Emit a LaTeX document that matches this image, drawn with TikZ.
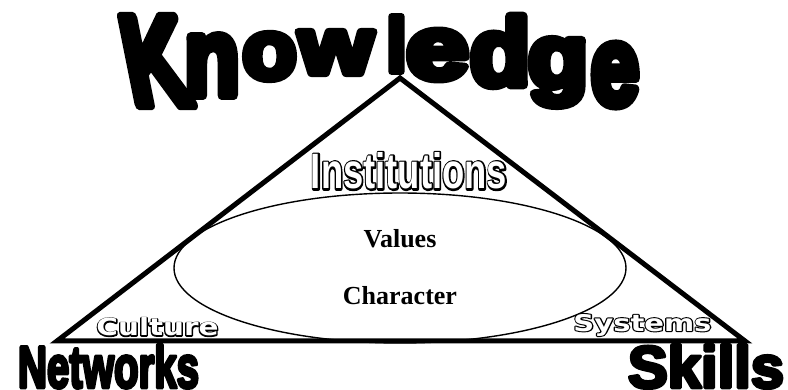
\documentclass[tikz,border=0pt]{standalone}
\usepackage{fontspec}
\usepackage{graphicx}
\usetikzlibrary{shapes.geometric}
\setmainfont{Liberation Serif}
\newfontfamily\heavyfont{Liberation Sans}[FakeBold=9]
\newfontfamily\cornerfont{Liberation Sans}[FakeBold=6]
\newfontfamily\plainsans{Liberation Sans}
\newfontfamily\strokesans{Liberation Sans}[FakeBold=8]
\newfontfamily\plainwide{DejaVu Sans}
\newfontfamily\strokewide{DejaVu Sans}[FakeBold=9]
\newcommand\otext[3]{\rlap{\color{black}#1#3}{\color{white}#2#3}}
\tikzset{
  kl/.style={inner sep=0pt, outer sep=0pt, anchor=center, line join=round},
  tri/.style={line width=5pt, line join=miter},
  oval/.style={draw, ellipse, line width=1.4pt, inner sep=0pt},
  inner/.style={font=\fontsize{26}{30}\selectfont\bfseries, inner sep=0pt, anchor=base},
}
\begin{document}
\begin{tikzpicture}[x=1pt,y=-1pt]
\useasboundingbox (0,0) rectangle (788,390);
\fill[white] (0,0) rectangle (788,390);
% triangle
\coordinate (apex) at (400,78);
\coordinate (bl) at (57,341);
\coordinate (br) at (745,341);
\draw[tri] (apex) -- (bl) -- (br) -- cycle;
% ellipse
\node[oval, minimum width=452pt, minimum height=150pt] (ell) at (400,268) {};
\node[inner] (values) at (400,248) {Values};
\node[inner] (character) at (400,305) {Character};
% Knowledge letters
\node[kl, xslant=-0.2, transform shape] (k1) at (155,61) {\resizebox{62pt}{87pt}{\heavyfont\bfseries K}};
\node[kl] (k2) at (212,65.5) {\resizebox{55pt}{59pt}{\heavyfont\bfseries n}};
\node[kl] (k3) at (269.5,56.5) {\resizebox{54pt}{45pt}{\heavyfont\bfseries o}};
\node[kl] (k4) at (336,52.5) {\resizebox{74pt}{42pt}{\heavyfont\bfseries w}};
\node[kl] (k5) at (396.5,44) {\resizebox{20pt}{55pt}{\heavyfont\bfseries l}};
\node[kl] (k6) at (437.5,55) {\resizebox{62pt}{48pt}{\heavyfont\bfseries e}};
\node[kl] (k7) at (500,51) {\resizebox{60pt}{69pt}{\heavyfont\bfseries d}};
\node[kl] (k8) at (558,72.5) {\resizebox*{60pt}{67pt}{\heavyfont\bfseries g}};
\node[kl] (k9) at (615,75) {\resizebox{48pt}{60pt}{\heavyfont\bfseries e}};
% corner words
\node[kl] (networks) at (108.5,366.5) {\resizebox{181pt}{43pt}{\cornerfont\bfseries Networks}};
\node[kl] (skills) at (706,366.5) {\resizebox{156pt}{43pt}{\cornerfont\bfseries Skills}};
% outlined words
\node[kl] (institutions) at (409,171) {\resizebox{196pt}{36pt}{\otext{\strokesans\bfseries}{\plainsans\bfseries}{Institutions}}};
\node[kl] (culture) at (157.5,327) {\resizebox{122pt}{18pt}{\otext{\strokewide\bfseries}{\plainwide\bfseries}{Culture}}};
\node[kl] (systems) at (642.5,325) {\resizebox*{138pt}{22pt}{\otext{\strokewide\bfseries}{\plainwide\bfseries}{Systems}}};
\end{tikzpicture}
\end{document}
